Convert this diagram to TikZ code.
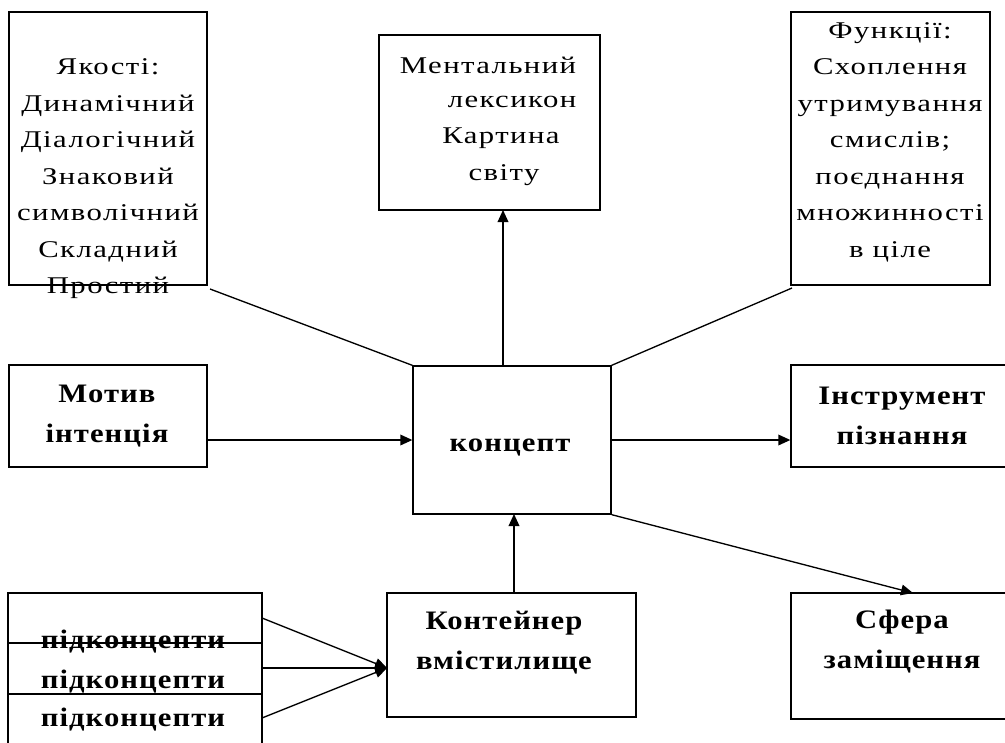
\documentclass[tikz,border=0pt]{standalone}
\usepackage{fontspec}
\setmainfont{Liberation Serif}
\newfontfamily\regf[FakeStretch=1.28,LetterSpace=6]{Liberation Serif}
\newfontfamily\boldf[FakeStretch=1.15,LetterSpace=4]{Liberation Serif Bold}
\usetikzlibrary{arrows.meta,fit}
\begin{document}
\begin{tikzpicture}[x=0.75pt,y=-0.75pt,
  box/.style={draw,line width=1pt,inner sep=0pt},
  reg/.style={font=\regf\fontsize{18}{27.4}\selectfont,align=center,inner sep=0pt},
  bld/.style={font=\boldf\fontsize{20}{30}\selectfont,align=center,inner sep=0pt},
  conn/.style={line width=1pt},
  arr/.style={line width=1pt,-{Triangle[length=9pt,width=8pt]}}]
\useasboundingbox (0,0) rectangle (1005,742);
\clip (0,0) rectangle (1005,742);
% boxes
\node[box,fit={(9,12) (207,285)}] (q) {};
\node[box,fit={(379,35) (600,210)}] (ml) {};
\node[box,fit={(791,12) (990,285)}] (f) {};
\node[box,fit={(9,365) (207,467)}] (m) {};
\node[box,fit={(413,366) (611,514)}] (c) {};
\node[box,fit={(791,365) (1015,467)}] (i) {};
\node[box,fit={(387,593) (636,717)}] (k) {};
\node[box,fit={(791,593) (1015,719)}] (s) {};
\node[box,fit={(8,593) (262,770)}] (p) {};
\coordinate (p1) at (8,643);
\coordinate (p1e) at (262,643);
\coordinate (p2) at (8,694);
\coordinate (p2e) at (262,694);
\draw[conn] (p1) -- (p1e);
\draw[conn] (p2) -- (p2e);
% texts
\node[reg] (qt) at (108,179) {Якості:\\Динамічний\\Діалогічний\\Знаковий\\символічний\\Складний\\Простий};
\node[reg] (mt1) at (488,65) {Ментальний};
\node[reg] (mt2) at (512,102) {лексикон};
\node[reg] (mt3) at (501,138) {Картина};
\node[reg] (mt4) at (504,175) {світу};
\node[reg] (ft) at (890,142) {Функції:\\Схоплення\\утримування\\смислів;\\поєднання\\множинності\\в ціле};
\node[bld] (mot) at (107,416) {Мотив\\інтенція};
\node[bld] (ct) at (510,448) {концепт};
\node[bld] (it) at (902,416) {Інструмент\\пізнання};
\node[bld] (kt) at (504,643) {Контейнер\\вмістилище};
\node[bld] (st) at (902,642) {Сфера\\заміщення};
\node[bld] (pt1) at (133,642) {підконцепти};
\node[bld] (pt2) at (133,682) {підконцепти};
\node[bld] (pt3) at (133,720) {підконцепти};
% connectors
\coordinate (cup) at (503,366);
\coordinate (mldn) at (503,210);
\draw[arr] (cup) -- (mldn);
\coordinate (qc) at (210,289);
\draw[conn] (qc) -- (c.north west);
\coordinate (fc) at (792,288);
\draw[conn] (c.north east) -- (fc);
\draw[arr] (m.east |- c.center) -- (c.west);
\draw[arr] (c.east) -- (i.west |- c.center);
\coordinate (kup) at (514,593);
\coordinate (cdn) at (514,514);
\draw[arr] (kup) -- (cdn);
\coordinate (sin) at (913,593);
\draw[arr] (c.south east) -- (sin);
\coordinate (kin) at (387,668);
\coordinate (a1) at (262,618);
\coordinate (a2) at (262,668);
\coordinate (a3) at (262,718);
\draw[arr] (a1) -- (kin);
\draw[arr] (a2) -- (kin);
\draw[arr] (a3) -- (kin);
\end{tikzpicture}
\end{document}
